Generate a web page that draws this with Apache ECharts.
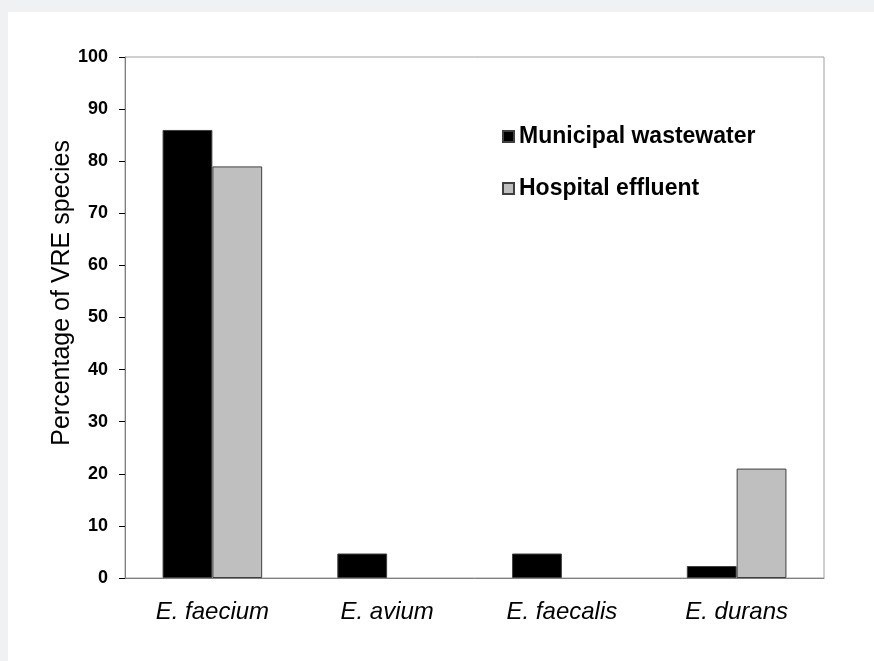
<!DOCTYPE html>
<html>
<head>
<meta charset="utf-8">
<script src="https://cdn.jsdelivr.net/npm/echarts@6/dist/echarts.min.js"></script>
<style>
  html, body { margin: 0; padding: 0; background: #f0f1f3; }
  #chart { position: absolute; left: 8px; top: 12px; width: 866px; height: 649px; background: #ffffff; }
</style>
</head>
<body>
<div id="chart"></div>
<script>
// species on the x axis
var species = ['E. faecium', 'E. avium', 'E. faecalis', 'E. durans']
// percentage values
var municipal = [86, 4.7, 4.7, 2.3]
var hospital = [79, 0, 0, 21]
var seriesNames = ['Municipal wastewater', 'Hospital effluent']
var yTitle = 'Percentage of VRE species'

var font = 'Liberation Sans, Arial, sans-serif'

// zero bars are not drawn at all in the original
function noZero (arr) {
  return arr.map(function (v) { return v === 0 ? '-' : v })
}

var myChart = echarts.init(document.getElementById('chart'))
myChart.setOption({
  animation: false,
  textStyle: { fontFamily: font },
  grid: {
    left: 117,
    top: 45,
    right: 50,
    bottom: 83,
    show: true,
    borderColor: '#a0a0a0',
    borderWidth: 1
  },
  legend: {
    orient: 'vertical',
    left: 494,
    top: 113,
    padding: 0,
    itemWidth: 11,
    itemHeight: 11,
    itemGap: 29,
    icon: 'rect',
    data: seriesNames,
    textStyle: { fontSize: 23, fontWeight: 'bold', color: '#000', fontFamily: font }
  },
  graphic: [{
    type: 'text',
    left: 42,
    top: 128,
    rotation: Math.PI / 2,
    style: {
      text: yTitle,
      fontSize: 25,
      fontFamily: font,
      fill: '#000'
    }
  }],
  xAxis: {
    type: 'category',
    data: species,
    axisLine: { lineStyle: { color: '#808080' } },
    axisTick: { length: 8, lineStyle: { color: '#000' } },
    axisLabel: { fontSize: 24, fontStyle: 'italic', color: '#000', margin: 22 }
  },
  yAxis: {
    type: 'value',
    min: 0,
    max: 100,
    interval: 10,
    splitLine: { show: false },
    axisLine: { show: true, lineStyle: { color: '#808080' } },
    axisTick: { show: true, length: 6, lineStyle: { color: '#000' } },
    axisLabel: { fontSize: 18, fontWeight: 'bold', color: '#000', margin: 17 }
  },
  series: [
    {
      name: seriesNames[0],
      type: 'bar',
      data: noZero(municipal),
      barGap: 0,
      barCategoryGap: '43%',
      itemStyle: { color: '#000000', borderColor: '#404040', borderWidth: 1 }
    },
    {
      name: seriesNames[1],
      type: 'bar',
      data: noZero(hospital),
      itemStyle: { color: '#bfbfbf', borderColor: '#404040', borderWidth: 1 }
    }
  ]
})
</script>
</body>
</html>
